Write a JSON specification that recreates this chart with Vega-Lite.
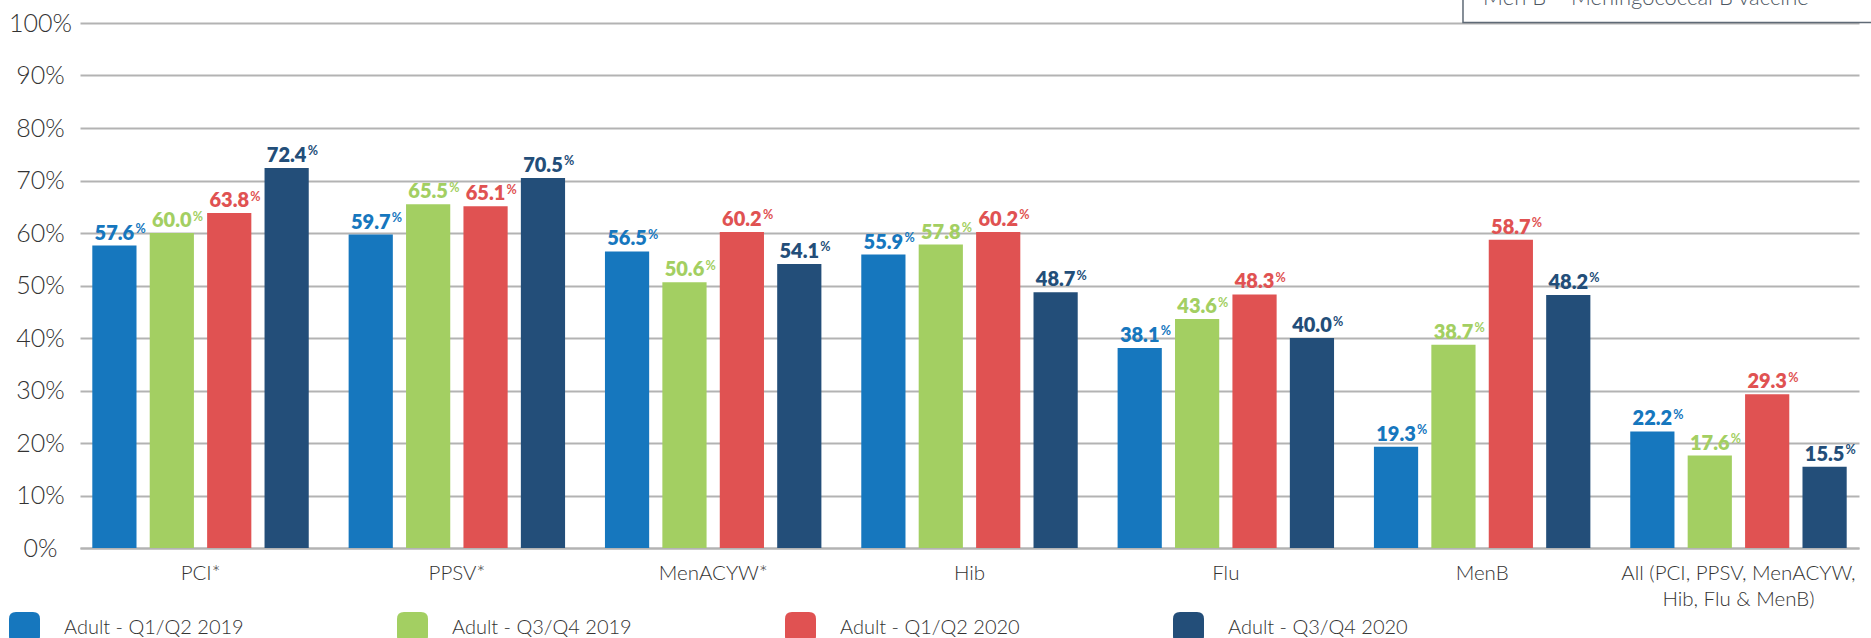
{
  "$schema": "https://vega.github.io/schema/vega-lite/v6.json",
  "width": 1779,
  "height": 525,
  "autosize": {"type": "none"},
  "padding": {"left": 80, "top": 23, "right": 12, "bottom": 90},
  "background": "white",
  "config": {
    "view": {"stroke": null},
    "font": "Lato",
    "legend": {
      "orient": "none",
      "legendX": -71,
      "legendY": 589,
      "direction": "horizontal",
      "columns": 4,
      "gridAlign": "all",
      "columnPadding": 153,
      "symbolType": "M-0.55,-1L0.55,-1Q1,-1 1,-0.55L1,0.55Q1,1 0.55,1L-0.55,1Q-1,1 -1,0.55L-1,-0.55Q-1,-1 -0.55,-1Z",
      "symbolSize": 961,
      "symbolStrokeWidth": 0,
      "symbolOpacity": 1,
      "labelOffset": 24,
      "labelFontSize": 20,
      "labelFont": "Lato",
      "labelFontWeight": 300,
      "labelColor": "#333333",
      "labelLimit": 400
    }
  },
  "layer": [
    {
      "data": {
        "values": [
          {"vaccine": "PCI*", "period": "Adult - Q1/Q2 2019", "pct": 57.6},
          {"vaccine": "PCI*", "period": "Adult - Q3/Q4 2019", "pct": 60.0},
          {"vaccine": "PCI*", "period": "Adult - Q1/Q2 2020", "pct": 63.8},
          {"vaccine": "PCI*", "period": "Adult - Q3/Q4 2020", "pct": 72.4},
          {"vaccine": "PPSV*", "period": "Adult - Q1/Q2 2019", "pct": 59.7},
          {"vaccine": "PPSV*", "period": "Adult - Q3/Q4 2019", "pct": 65.5},
          {"vaccine": "PPSV*", "period": "Adult - Q1/Q2 2020", "pct": 65.1},
          {"vaccine": "PPSV*", "period": "Adult - Q3/Q4 2020", "pct": 70.5},
          {"vaccine": "MenACYW*", "period": "Adult - Q1/Q2 2019", "pct": 56.5},
          {"vaccine": "MenACYW*", "period": "Adult - Q3/Q4 2019", "pct": 50.6},
          {"vaccine": "MenACYW*", "period": "Adult - Q1/Q2 2020", "pct": 60.2},
          {"vaccine": "MenACYW*", "period": "Adult - Q3/Q4 2020", "pct": 54.1},
          {"vaccine": "Hib", "period": "Adult - Q1/Q2 2019", "pct": 55.9},
          {"vaccine": "Hib", "period": "Adult - Q3/Q4 2019", "pct": 57.8},
          {"vaccine": "Hib", "period": "Adult - Q1/Q2 2020", "pct": 60.2},
          {"vaccine": "Hib", "period": "Adult - Q3/Q4 2020", "pct": 48.7},
          {"vaccine": "Flu", "period": "Adult - Q1/Q2 2019", "pct": 38.1},
          {"vaccine": "Flu", "period": "Adult - Q3/Q4 2019", "pct": 43.6},
          {"vaccine": "Flu", "period": "Adult - Q1/Q2 2020", "pct": 48.3},
          {"vaccine": "Flu", "period": "Adult - Q3/Q4 2020", "pct": 40.0},
          {"vaccine": "MenB", "period": "Adult - Q1/Q2 2019", "pct": 19.3},
          {"vaccine": "MenB", "period": "Adult - Q3/Q4 2019", "pct": 38.7},
          {"vaccine": "MenB", "period": "Adult - Q1/Q2 2020", "pct": 58.7},
          {"vaccine": "MenB", "period": "Adult - Q3/Q4 2020", "pct": 48.2},
          {"vaccine": "All (PCI, PPSV, MenACYW, Hib, Flu & MenB)", "period": "Adult - Q1/Q2 2019", "pct": 22.2},
          {"vaccine": "All (PCI, PPSV, MenACYW, Hib, Flu & MenB)", "period": "Adult - Q3/Q4 2019", "pct": 17.6},
          {"vaccine": "All (PCI, PPSV, MenACYW, Hib, Flu & MenB)", "period": "Adult - Q1/Q2 2020", "pct": 29.3},
          {"vaccine": "All (PCI, PPSV, MenACYW, Hib, Flu & MenB)", "period": "Adult - Q3/Q4 2020", "pct": 15.5}
        ]
      },
      "encoding": {
        "x": {
          "field": "vaccine",
          "type": "nominal",
          "sort": null,
          "title": null,
          "scale": {"paddingInner": 0.1556, "paddingOuter": 0.048},
          "axis": {
            "labelAngle": 0,
            "labelFont": "Lato",
            "labelFontSize": 20.5,
            "labelFontWeight": 300,
            "labelColor": "#333333",
            "labelPadding": 15,
            "labelLineHeight": 26,
            "labelBaseline": "top",
            "labelLimit": 400,
            "ticks": false,
            "domain": true,
            "domainColor": "#b3b3b3",
            "domainWidth": 2,
            "labelExpr": "indexof(datum.label, 'All (') == 0 ? ['All (PCI, PPSV, MenACYW,', 'Hib, Flu & MenB)'] : datum.label"
          }
        },
        "xOffset": {
          "field": "period",
          "type": "nominal",
          "sort": ["Adult - Q1/Q2 2019", "Adult - Q3/Q4 2019", "Adult - Q1/Q2 2020", "Adult - Q3/Q4 2020"],
          "scale": {"paddingInner": 0.23, "paddingOuter": 0}
        },
        "y": {
          "field": "pct",
          "type": "quantitative",
          "title": null,
          "scale": {"domain": [0, 100]},
          "axis": {
            "values": [0, 10, 20, 30, 40, 50, 60, 70, 80, 90, 100],
            "labelExpr": "datum.value + '%'",
            "labelAlign": "center",
            "labelBaseline": "middle",
            "labelPadding": 40,
            "labelFont": "Lato",
            "labelFontSize": 25,
            "labelFontWeight": 300,
            "labelColor": "#333333",
            "ticks": false,
            "domain": false,
            "grid": true,
            "gridColor": "#b3b3b3",
            "gridWidth": 2
          }
        },
        "color": {
          "field": "period",
          "type": "nominal",
          "title": null,
          "scale": {
            "domain": ["Adult - Q1/Q2 2019", "Adult - Q3/Q4 2019", "Adult - Q1/Q2 2020", "Adult - Q3/Q4 2020"],
            "range": ["#1677be", "#a3cf62", "#e05252", "#234e79"]
          }
        }
      },
      "layer": [
        {"mark": {"type": "bar"}},
        {
          "mark": {"type": "text", "font": "Lato", "fontSize": 20, "fontWeight": 800, "baseline": "alphabetic", "dy": -6},
          "encoding": {"text": {"field": "pct", "type": "quantitative", "format": ".1f"}}
        },
        {
          "mark": {"type": "text", "font": "Lato", "fontSize": 12.5, "fontWeight": 700, "align": "left", "baseline": "alphabetic", "dx": 21, "dy": -12.5, "text": "%"}
        }
      ]
    },
    {
      "data": {"values": [{"note": "Men B = Meningococcal B vaccine"}]},
      "layer": [
        {
          "mark": {"type": "rect", "fill": "white", "stroke": "#5f6a76", "strokeWidth": 1.5},
          "encoding": {
            "x": {"datum": 0.7774, "type": "quantitative", "scale": {"domain": [0, 1]}, "axis": null},
            "x2": {"datum": 1.1},
            "y": {"datum": 100.1, "type": "quantitative"},
            "y2": {"datum": 112}
          }
        },
        {
          "mark": {"type": "text", "font": "Lato", "fontSize": 22, "fontWeight": 300, "align": "left", "baseline": "alphabetic", "color": "#4d5763"},
          "encoding": {
            "x": {"datum": 0.7887, "type": "quantitative", "scale": {"domain": [0, 1]}, "axis": null},
            "y": {"datum": 103.4, "type": "quantitative"},
            "text": {"field": "note"}
          }
        }
      ]
    }
  ],
  "resolve": {"scale": {"x": "independent"}}
}
